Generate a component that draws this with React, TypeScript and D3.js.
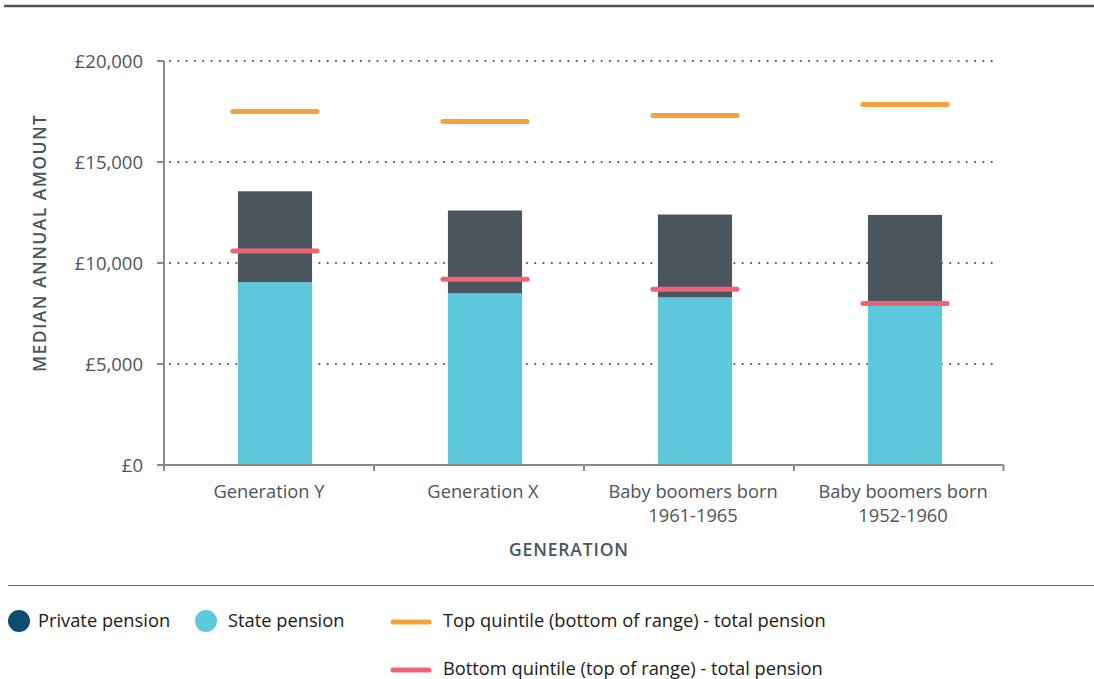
import React from "react";
import * as d3 from "d3";

const categories = ["Generation Y", "Generation X", "Baby boomers born\n1961-1965", "Baby boomers born\n1952-1960"];
const statePension = [9050, 8500, 8300, 7900];
const privatePension = [4500, 4100, 4100, 4480];
const topQuintile = [17500, 17000, 17300, 17850];
const bottomQuintile = [10600, 9200, 8700, 8000];
const yTicks = [0, 5000, 10000, 15000, 20000];

const DARK = "#4a555d";
const STATE = "#5ec8dc";
const ORANGE = "#f5a23b";
const RED = "#ee6474";
const FONT = "'Open Sans', 'Noto Sans', sans-serif";
const LEGEND_FONT = "'Open Sans', 'Noto Sans', sans-serif";

export default function App() {
  const W = 1094, H = 679;
  const y = d3.scaleLinear().domain([0, 20000]).range([465, 61]);
  const xAxis = d3.scaleBand().domain(categories).range([164, 1004]);
  const xBar = d3.scaleBand().domain(categories).range([170, 1010]).paddingInner(0.647).paddingOuter(0.3235);
  const bw = xBar.bandwidth();
  const fmt = (v: number) => "£" + d3.format(",")(v);

  return (
    <svg width={W} height={H} style={{ position: "absolute", left: 0, top: 0, background: "#fff" }}>
      <line x1={4} x2={1094} y1={6} y2={6} stroke={DARK} strokeWidth={2.6} />
      {/* gridlines */}
      {yTicks.filter((t) => t > 0).map((t) => (
        <line key={t} x1={170} x2={1000} y1={y(t)} y2={y(t)} stroke={DARK} strokeWidth={2.2}
          strokeLinecap="round" strokeDasharray="0 8.3" />
      ))}
      {/* bars */}
      {categories.map((c, i) => {
        const x0 = xBar(c)!;
        return (
          <g key={c}>
            <rect x={x0} width={bw} y={y(statePension[i])} height={y(0) - y(statePension[i])} fill={STATE} />
            <rect x={x0} width={bw} y={y(statePension[i] + privatePension[i])}
              height={y(statePension[i]) - y(statePension[i] + privatePension[i])} fill={DARK} />
          </g>
        );
      })}
      {/* quintile lines */}
      {categories.map((c, i) => {
        const x0 = xBar(c)!;
        return (
          <g key={"q" + c}>
            <line x1={x0 - 5} x2={x0 + bw + 5} y1={y(topQuintile[i])} y2={y(topQuintile[i])}
              stroke={ORANGE} strokeWidth={5} strokeLinecap="round" />
            <line x1={x0 - 5} x2={x0 + bw + 5} y1={y(bottomQuintile[i])} y2={y(bottomQuintile[i])}
              stroke={RED} strokeWidth={5} strokeLinecap="round" />
          </g>
        );
      })}
      {/* y axis */}
      <line x1={164} x2={164} y1={61} y2={466} stroke="#868b8e" strokeWidth={2} />
      {yTicks.map((t) => (
        <g key={"yt" + t}>
          <line x1={157} x2={164} y1={y(t)} y2={y(t)} stroke="#868b8e" strokeWidth={2} />
          <text x={143} y={y(t)} dy="0.36em" textAnchor="end" fontFamily={FONT} fontSize={18.5}
            fill={DARK}>{fmt(t)}</text>
        </g>
      ))}
      {/* x axis */}
      <line x1={163} x2={1004} y1={465} y2={465} stroke="#868b8e" strokeWidth={2} />
      {[...categories.map((c) => xAxis(c)!), 1003.5].map((x, i) => (
        <line key={"xt" + i} x1={x} x2={x} y1={465} y2={471} stroke="#868b8e" strokeWidth={2} />
      ))}
      {categories.map((c, i) => {
        const cx = xAxis(c)! + xAxis.bandwidth() / 2 + (i === 0 ? 0 : 4);
        return (
          <text key={"xl" + c} x={cx} y={498} textAnchor="middle" fontFamily={FONT} fontSize={18.3} fill={DARK}>
            {c.split("\n").map((l, j) => (
              <tspan key={j} x={cx} dy={j === 0 ? 0 : 23.5}>{l}</tspan>
            ))}
          </text>
        );
      })}
      <text x={568.5} y={556} textAnchor="middle" fontFamily={FONT} fontSize={17.5} fontWeight={600}
        fill={DARK} textLength={119} lengthAdjust="spacing">GENERATION</text>
      <text transform="translate(45.5,243.5) rotate(-90)" textAnchor="middle" fontFamily={FONT} fontSize={17.5}
        fontWeight={600} fill={DARK} textLength={257} lengthAdjust="spacing">MEDIAN ANNUAL AMOUNT</text>
      {/* separator */}
      <line x1={8} x2={1094} y1={585.5} y2={585.5} stroke="#5b666e" strokeWidth={1.2} />
      {/* legend */}
      <circle cx={19} cy={621} r={11} fill="#0d4e70" />
      <text x={38} y={627} fontFamily={LEGEND_FONT} fontSize={18.3} fill="#1a1a1a">Private pension</text>
      <circle cx={206} cy={621} r={11} fill={STATE} />
      <text x={228} y={627} fontFamily={LEGEND_FONT} fontSize={18.3} fill="#1a1a1a">State pension</text>
      <line x1={393} x2={429} y1={622} y2={622} stroke={ORANGE} strokeWidth={5} strokeLinecap="round" />
      <text x={443} y={627} fontFamily={LEGEND_FONT} fontSize={18.3} fill="#1a1a1a">Top quintile (bottom of range) - total pension</text>
      <line x1={393} x2={429} y1={670} y2={670} stroke={RED} strokeWidth={5} strokeLinecap="round" />
      <text x={443} y={675} fontFamily={LEGEND_FONT} fontSize={18.3} fill="#1a1a1a">Bottom quintile (top of range) - total pension</text>
    </svg>
  );
}
